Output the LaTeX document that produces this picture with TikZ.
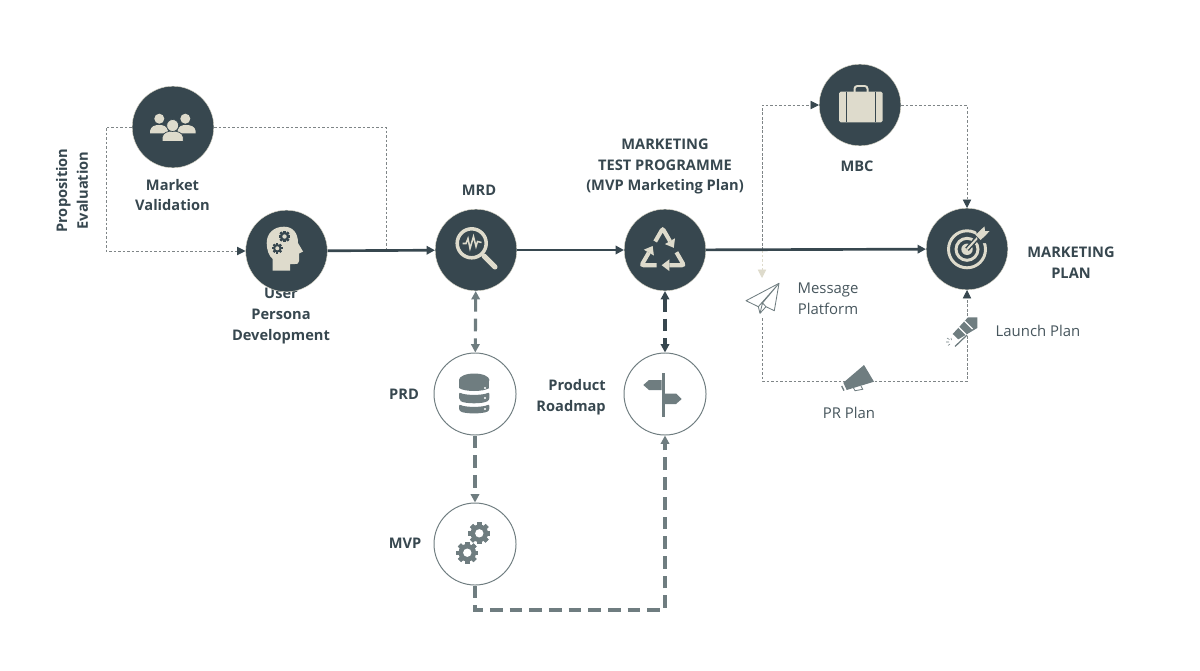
\documentclass[tikz,border=0pt]{standalone}
\usepackage{fontspec}
\setmainfont{Open Sans}
\usepackage{xcolor}
\usepackage{tikz}
\usetikzlibrary{arrows.meta}
\usetikzlibrary{shapes.geometric}
\definecolor{slate}{HTML}{37474F}
\definecolor{cream}{HTML}{DEDBCC}
\definecolor{ash}{HTML}{6F7D80}
\definecolor{dotgrey}{HTML}{7F8587}
\tikzset{
	bigstep/.style={circle,fill=slate,draw=cream,line width=0.3pt,minimum size=2.04cm,inner sep=0},
	smallstep/.style={circle,fill=white,draw=ash,line width=0.7pt,minimum size=2.05cm,inner sep=0},
	boldlabel/.style={font=\fontsize{10.4}{14.9}\selectfont\bfseries,text=slate,align=center,inner sep=0},
	lightlabel/.style={font=\fontsize{10.6}{14.9}\selectfont,text=slate!92!white,align=center,inner sep=0},
	mainline/.style={slate,line width=1.9pt,-{Triangle[length=6pt,width=6pt]}},
	dotline/.style={dotgrey,line width=0.6pt,dash pattern=on 1.8pt off 1.4pt},
	dottip/.style={-{Triangle[length=6pt,width=6pt,color=slate]}},
	dashline/.style={ash,line width=2.2pt,dash pattern=on 9pt off 5pt},
	dashtip/.style={-{Triangle[length=6pt,width=6pt]}},
	duotip/.style={{Triangle[length=6pt,width=6pt]}-{Triangle[length=6pt,width=6pt]}}
}
% x y gear radius, body colour, hole colour
\newcommand{\gearicon}[5]{
	\foreach \a in {0,45,...,315}
		\fill[#4,rotate around={\a:(#1,#2)}] (#1-0.2*#3,#2-#3) rectangle (#1+0.2*#3,#2+#3);
	\fill[#4] (#1,#2) circle (0.8*#3);
	\fill[#5] (#1,#2) circle (0.38*#3);
}
\begin{document}
\begin{tikzpicture}[x=0.025cm,y=-0.025cm]
	\useasboundingbox (0,0) rectangle (1200,670);
	% labels
	\node[boldlabel,rotate=90] (propLabel) at (72,190.5) {Proposition\\Evaluation};
	\node[boldlabel] (mvLabel) at (172.5,195) {Market\\Validation};
	\node[boldlabel] (upLabel) at (281,316) {User\\Persona\\Development};
	\node[boldlabel] (mrdLabel) at (479,190) {MRD};
	\node[boldlabel] (mtpLabel) at (665,166.5) {MARKETING\\TEST PROGRAMME\\(MVP Marketing Plan)};
	\node[boldlabel] (mbcLabel) at (857,166) {MBC};
	\node[boldlabel] (mpLabel) at (1071,263) {MARKETING\\PLAN};
	\node[boldlabel] (prdLabel) at (404,394) {PRD};
	\node[boldlabel,align=right,anchor=east] (rmLabel) at (606,397.5) {Product\\Roadmap};
	\node[boldlabel] (mvpLabel) at (405,543) {MVP};
	\node[lightlabel] (msgLabel) at (828,299) {Message\\Platform};
	\node[lightlabel] (launchLabel) at (1038,330.5) {Launch Plan};
	\node[lightlabel] (prLabel) at (849,412.5) {PR Plan};
	% circles
	\node[bigstep] (mv) at (173,127) {};
	\node[bigstep] (up) at (286.5,251) {};
	\node[bigstep] (mrd) at (476,250) {};
	\node[bigstep] (mtp) at (665,250) {};
	\node[bigstep] (mbc) at (860,105) {};
	\node[bigstep] (mp) at (967,249) {};
	\node[smallstep] (prd) at (475,394) {};
	\node[smallstep] (rm) at (665,394) {};
	\node[smallstep] (mvp) at (475,544) {};
	% free ends
	\coordinate (loopL) at (106,127);
	\coordinate (joinA) at (386,250);
	\coordinate (mtpOut) at (762,250);
	\coordinate (planeTop) at (762,278);
	\coordinate (planeLow) at (762,318);
	\coordinate (prCorner) at (762,381);
	\coordinate (mvpLow) at (475,610);
	% dotted loops
	\draw[dotline,dottip] (mv.west) -- (loopL) |- (up.west);
	\draw[dotline] (mv.east) -| (joinA);
	\draw[dotline,dottip] (mtpOut) |- (mbc.west);
	\draw[dotline,dottip] (mbc.east) -| (mp.north);
	\draw[dotline,cream,-{Triangle[length=6pt,width=6pt]}] (mtpOut) -- (planeTop);
	\draw[dotline,dottip] (planeLow) -- (prCorner) -| (mp.south);
	% main line
	\draw[mainline] (up) -- (mrd);
	\draw[mainline] (mrd) -- (mtp);
	\draw[mainline] (mtp) -- (mp);
	% dashed links
	\draw[dashline,duotip] (mrd) -- (prd);
	\draw[dashline,duotip,slate] (mtp) -- (rm);
	\draw[dashline,dashtip] (prd) -- (mvp);
	\draw[dashline,dashtip] (mvp.south) -- (mvpLow) -| (rm.south);
	% people
	\fill[cream] (159.3,118.7) circle (5);
	\fill[cream] (185.3,118.7) circle (5);
	\fill[cream] (150,133.3) -- (150,131) .. controls (151,126) and (155,125) .. (159,125) .. controls (163,125) and (167,126) .. (168,131) -- (168,133.3) -- cycle;
	\fill[cream] (177.5,133.3) -- (177.5,131) .. controls (178.5,126) and (182,125) .. (186,125) .. controls (190,125) and (195,126) .. (195.7,131) -- (195.7,133.3) -- cycle;
	\fill[cream,draw=slate,line width=0.5pt] (162.2,141.5) -- (162.2,137) .. controls (163,132.5) and (168,131) .. (172.7,131) .. controls (177,131) and (182.5,132.5) .. (183.2,137) -- (183.2,141.5) -- cycle;
	\fill[cream,draw=slate,line width=0.5pt] (172.7,125.5) circle (6);
	% head
	\fill[cream] (272.7,270.5) -- (272.7,259) .. controls (269,256) and (266.7,250) .. (266.7,243) .. controls (266.7,233) and (274,226.7) .. (284,226.7) .. controls (293,226.7) and (298,233) .. (298,243) -- (303,251.5) -- (299,253.5) -- (299,261) .. controls (299,263.5) and (297,264.5) .. (295,264) -- (290,264) -- (290,270.5) -- cycle;
	\gearicon{284.5}{236.5}{5.8}{slate}{cream}
	\gearicon{277.3}{248.3}{5.3}{slate}{cream}
	% magnifier
	\draw[cream,line width=2.5pt] (471.7,243.3) circle (14.5);
	\draw[cream,line width=3.6pt,line cap=round] (484,256) -- (495,267);
	\draw[cream,line width=1.1pt] (462.5,243.5) -- (466,243.5) -- (468,238.5) -- (470,248.5) -- (473.5,236.5) -- (476,246.5) -- (477.5,241.5) -- (481.5,242.5);
	% recycle
	\foreach \a in {0,120,240} {
		\begin{scope}[rotate around={\a:(662.7,253)}]
			\draw[cream,line width=2.9pt,rounded corners=1.5pt] (655.2,241.5) -- (662.7,228.5) -- (670,241.2);
			\fill[cream] (673.8,247.8) -- (664.9,244.1) -- (675,238.3) -- cycle;
		\end{scope}
	}
	% briefcase
	\draw[cream,line width=1.4pt,rounded corners=2pt] (854.5,92) -- (854.5,86) -- (867.5,86) -- (867.5,92);
	\fill[cream,rounded corners=1.2pt] (839,91.7) rectangle (882.7,122.3);
	\draw[slate,line width=0.7pt] (846.7,91.7) -- (846.7,122.3);
	\draw[slate,line width=0.7pt] (875,91.7) -- (875,122.3);
	% target
	\draw[cream,line width=2.1pt] (967,249.3) circle (18.5);
	\draw[cream,line width=2.1pt] (967,249.3) circle (11);
	\fill[cream] (967,249.3) circle (5.7);
	\draw[slate,line width=3.4pt] (967,249.3) -- (980,235);
	\draw[cream,line width=1.4pt] (967,249.3) -- (981,234);
	\fill[slate] (976,229) -- (992,229) -- (992,243) -- (978,243) -- cycle;
	\fill[cream] (975.5,235) -- (980.5,230) -- (984.5,226.5) -- (985,231) -- (989.5,231) -- (985.5,235.5) -- (980.5,240) -- cycle;
	% database
	\fill[ash] (474.2,380) ellipse (15.2 and 6.5);
	\fill[ash] (459,380) rectangle (489.4,388);
	\fill[ash] (459,388) .. controls (465,392) and (483,392) .. (489.4,388) -- cycle;
	\fill[ash,rounded corners=1.5pt] (459,392) .. controls (465,395.5) and (483,395.5) .. (489.4,392) -- (489.4,400) .. controls (483,404) and (465,404) .. (459,400) -- cycle;
	\fill[ash,rounded corners=1.5pt] (459,404) .. controls (465,407.5) and (483,407.5) .. (489.4,404) -- (489.4,410.5) .. controls (483,414) and (465,414) .. (459,410.5) -- cycle;
	\foreach \dy in {388,398,409}
		\fill[white] (485,\dy) circle (1.1);
	% signpost
	\fill[ash] (661.7,373.3) rectangle (665,416.7);
	\fill[ash] (661.7,380) -- (649,380) -- (643.3,385) -- (649,390) -- (661.7,390) -- cycle;
	\fill[ash] (665,393.5) -- (676,393.5) -- (681.7,399) -- (676,404) -- (665,404) -- cycle;
	% gears
	\gearicon{479.3}{533.3}{11}{ash}{white}
	\gearicon{467.3}{552.7}{11}{ash}{white}
	% plane
	\draw[ash,fill=white,line width=0.6pt,line join=round] (779,283.3) -- (746,300.7) -- (758.3,306.7) -- (760,313.3) -- (766,306.7) -- (774.3,310.7) -- cycle;
	\draw[ash,line width=0.6pt] (779,283.3) -- (758.3,306.7) (779,283.3) -- (762.5,303) -- (766,306.7) (762.5,303) -- (760,313.3);
	% megaphone
	\fill[ash] (864,365) -- (874,381.7) -- (846.7,390) -- (843.3,382.7) -- cycle;
	\draw[ash,line width=0.9pt] (841.7,386) -- (844,390.7);
	\draw[ash,line width=0.6pt] (853.3,387.5) -- (855,390.7) -- (862.7,389.3) -- (861,386);
	% rocket
	\fill[ash] (968,317.3) -- (977.3,317.3) -- (977.3,328) -- (958.3,339.3) -- (952.7,334) -- cycle;
	\draw[white,line width=0.9pt] (958.5,327) -- (966.5,335);
	\draw[white,line width=0.9pt] (964.5,321) -- (972.5,329);
	\draw[ash,line width=0.9pt] (955,346.5) -- (967,335);
	\draw[ash,line width=0.4pt] (947,338) -- (949.5,339.5) (946,342) -- (949,342) (948,345.5) -- (950,344) (951,338) -- (951.5,340);
\end{tikzpicture}
\end{document}
